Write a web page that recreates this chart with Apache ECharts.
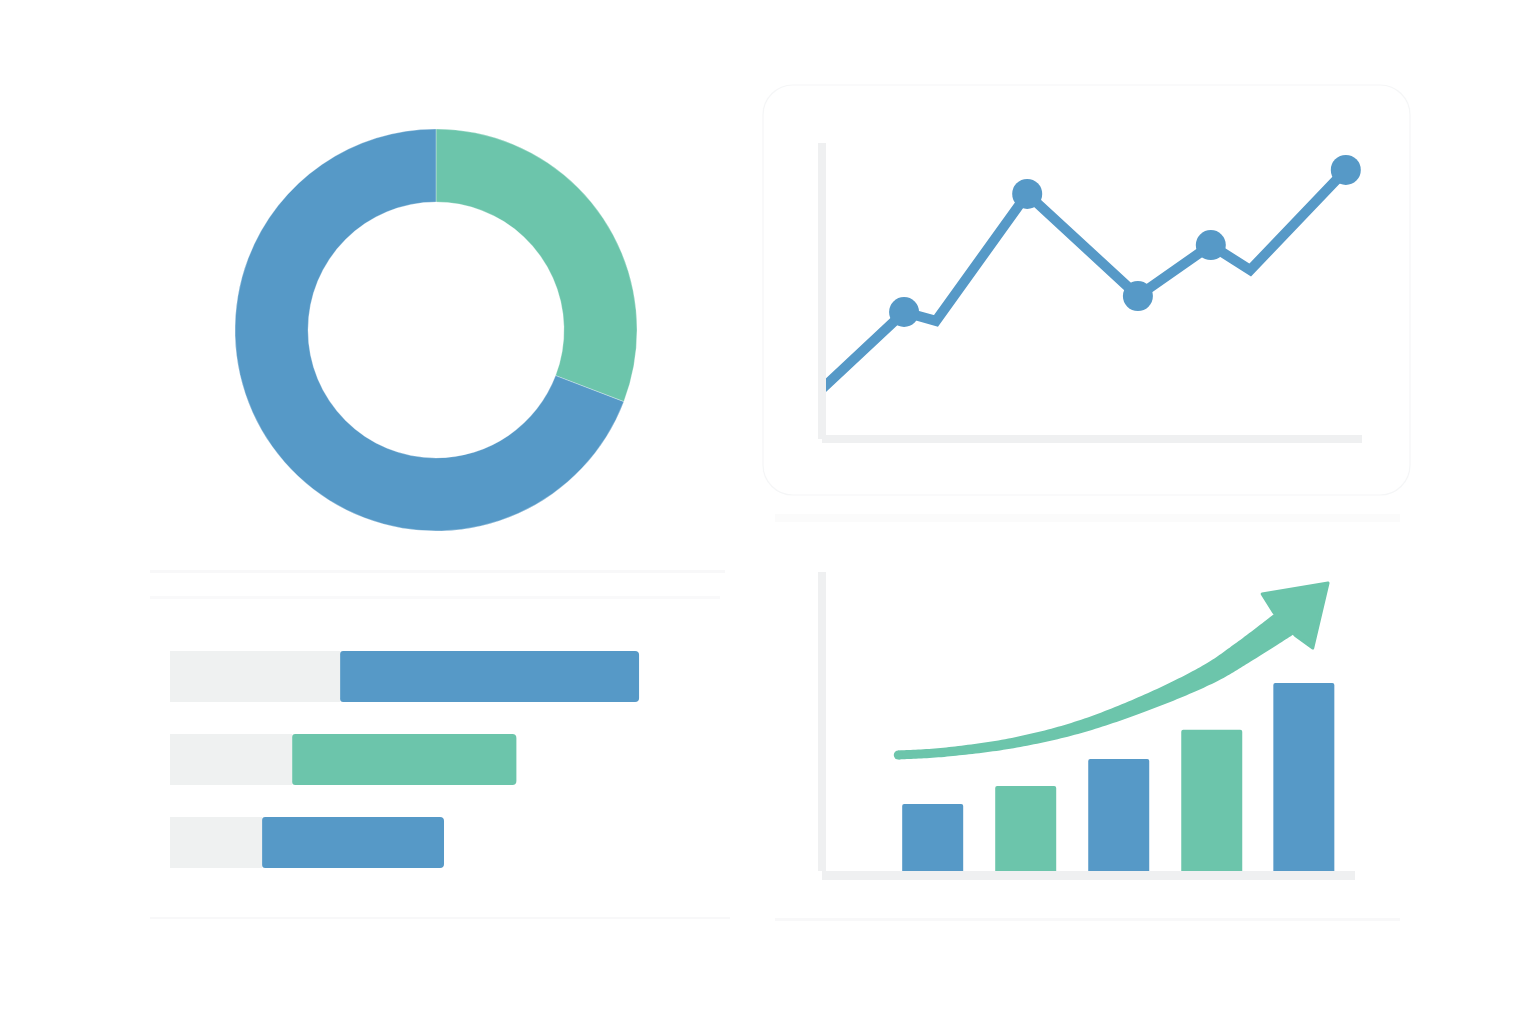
<!DOCTYPE html>
<html>
<head>
<meta charset="utf-8">
<style>
  html, body { margin: 0; padding: 0; background: #ffffff; }
  #chart { width: 1536px; height: 1024px; }
</style>
<script src="https://cdn.jsdelivr.net/npm/echarts@6/dist/echarts.min.js"></script>
</head>
<body>
<div id="chart"></div>
<script>
// ---------- data ----------
const BLUE = '#5699c7';
const GREEN = '#6cc5ab';
const AXIS = '#eff0f1';

// donut
const donutNames = ['A', 'B'];
const donutValues = [30.8, 69.2];
const donutColors = [GREEN, BLUE];

// line chart (x, y on 0..100 scales)
const lineX = [0, 15.2, 21.1, 38.0, 58.5, 72.0, 79.3, 97.0];
const lineY = [16.9, 42.9, 39.9, 82.8, 48.3, 65.5, 57.1, 90.9];
const lineMarked = [false, true, false, true, true, true, false, true];

// vertical bars
const barX = [1.19, 2.19, 3.19, 4.19, 5.18];
const barValues = [22.4, 28.4, 37.5, 47.2, 62.9];
const barColors = [BLUE, GREEN, BLUE, GREEN, BLUE];

// trend arrow (shaft points, then tip)
const arrowX = [0.82, 1.34, 2.05, 2.77, 3.50, 4.14, 4.55, 4.98, 5.44];
const arrowY = [38.8, 39.8, 42.8, 48.2, 56.5, 65.6, 73.6, 82.9, 96.3];

// horizontal bars
const hCategories = ['r1', 'r2', 'r3'];
const hBase = [36.2, 26.0, 19.6];
const hValues = [63.6, 47.7, 38.7];
const hColors = [BLUE, GREEN, BLUE];

// ---------- helpers ----------
function catmull(pts, n) {
  const out = [];
  for (let i = 0; i < pts.length - 1; i++) {
    const p0 = pts[i - 1] || pts[i], p1 = pts[i], p2 = pts[i + 1], p3 = pts[i + 2] || pts[i + 1];
    for (let k = 0; k < n; k++) {
      const t = k / n, t2 = t * t, t3 = t2 * t;
      const f = (a, b, c, d) => 0.5 * ((2 * b) + (-a + c) * t + (2 * a - 5 * b + 4 * c - d) * t2 + (-a + 3 * b - 3 * c + d) * t3);
      out.push([f(p0[0], p1[0], p2[0], p3[0]), f(p0[1], p1[1], p2[1], p3[1])]);
    }
  }
  out.push(pts[pts.length - 1]);
  return out;
}

function renderArrow(params, api) {
  if (params.dataIndex !== 0) return;
  const pts = arrowX.map((x, i) => api.coord([x, arrowY[i]]));
  const tip = pts.pop();
  const shaft = catmull(pts, 20);
  const cum = [0];
  for (let i = 1; i < shaft.length; i++) {
    cum.push(cum[i - 1] + Math.hypot(shaft[i][0] - shaft[i - 1][0], shaft[i][1] - shaft[i - 1][1]));
  }
  const total = cum[cum.length - 1];
  const w0 = 9, w1 = 28;
  const left = [], right = [];
  for (let i = 0; i < shaft.length; i++) {
    const a = shaft[Math.max(0, i - 1)], b = shaft[Math.min(shaft.length - 1, i + 1)];
    let dx = b[0] - a[0], dy = b[1] - a[1];
    const L = Math.hypot(dx, dy) || 1;
    dx /= L; dy /= L;
    const w = (w0 + (w1 - w0) * Math.pow(cum[i] / total, 2.0)) / 2;
    left.push([shaft[i][0] - dy * w, shaft[i][1] + dx * w]);
    right.push([shaft[i][0] + dy * w, shaft[i][1] - dx * w]);
  }
  const poly = left.concat(right.reverse());
  const B = shaft[shaft.length - 1];
  let dx = tip[0] - B[0], dy = tip[1] - B[1];
  const L = Math.hypot(dx, dy);
  dx /= L; dy /= L;
  const nx = -dy, ny = dx;
  const hw = 37, nw = 16, fwd = 3;
  const b1 = [B[0] + dx * fwd + nx * hw, B[1] + dy * fwd + ny * hw];
  const b2 = [B[0] + dx * fwd - nx * hw, B[1] + dy * fwd - ny * hw];
  const n1 = [B[0] - dx * 1 + nx * nw, B[1] - dy * 1 + ny * nw];
  const n2 = [B[0] - dx * 1 - nx * nw, B[1] - dy * 1 - ny * nw];
  const style = { fill: GREEN, stroke: GREEN, lineWidth: 3, lineJoin: 'round' };
  return {
    type: 'group',
    children: [
      { type: 'polygon', shape: { points: poly }, style: { fill: GREEN } },
      { type: 'circle', shape: { cx: shaft[0][0], cy: shaft[0][1], r: w0 / 2 }, style: { fill: GREEN } },
      { type: 'polygon', shape: { points: [tip, b1, n1, n2, b2] }, style: style }
    ]
  };
}

// ---------- chart ----------
const chart = echarts.init(document.getElementById('chart'), null, { renderer: 'canvas' });

const axisLine = (w) => ({ show: true, onZero: false, lineStyle: { color: AXIS, width: w, cap: 'butt' } });
const hidden = { axisTick: { show: false }, axisLabel: { show: false }, splitLine: { show: false } };

const option = {
  backgroundColor: '#ffffff',
  animation: false,
  graphic: [
    { type: 'rect', z: -10, shape: { x: 763, y: 85, width: 647, height: 410, r: 30 },
      style: { fill: '#ffffff', stroke: '#f5f6f7', lineWidth: 1.2 } },
    { type: 'rect', z: -11, shape: { x: 775, y: 514, width: 625, height: 8 },
      style: { fill: '#fbfbfb' } },
    { type: 'rect', z: -11, shape: { x: 150, y: 570, width: 575, height: 3 },
      style: { fill: '#f8f8f9' } },
    { type: 'rect', z: -11, shape: { x: 150, y: 596, width: 570, height: 3 },
      style: { fill: '#f9f9fa' } },
    { type: 'rect', z: -11, shape: { x: 150, y: 917, width: 580, height: 2 },
      style: { fill: '#f8f8f9' } },
    { type: 'rect', z: -11, shape: { x: 775, y: 918, width: 625, height: 3 },
      style: { fill: '#f8f8f9' } }
  ],
  grid: [
    { left: 822, top: 143, width: 540, height: 296 },
    { left: 822, top: 572, width: 533, height: 299 },
    { left: 170, top: 635, width: 470, height: 249 }
  ],
  xAxis: [
    Object.assign({ type: 'value', gridIndex: 0, min: 0, max: 100, axisLine: axisLine(8) }, hidden),
    Object.assign({ type: 'value', gridIndex: 1, min: 0, max: 5.73, offset: 4.5, axisLine: axisLine(9) }, hidden),
    Object.assign({ type: 'value', gridIndex: 2, min: 0, max: 100, axisLine: { show: false } }, hidden)
  ],
  yAxis: [
    Object.assign({ type: 'value', gridIndex: 0, min: 0, max: 100, z: 5, axisLine: axisLine(8) }, hidden),
    Object.assign({ type: 'value', gridIndex: 1, min: 0, max: 100, axisLine: axisLine(8) }, hidden),
    Object.assign({ type: 'category', gridIndex: 2, data: hCategories, inverse: true, axisLine: { show: false } }, hidden)
  ],
  series: [
    {
      type: 'pie',
      center: [436, 330],
      radius: [128, 201],
      startAngle: 90,
      clockwise: true,
      label: { show: false },
      labelLine: { show: false },
      emphasis: { disabled: true },
      itemStyle: { borderColor: 'rgba(255,255,255,0.5)', borderWidth: 0.6 },
      data: donutValues.map((v, i) => ({ name: donutNames[i], value: v, itemStyle: { color: donutColors[i] } }))
    },
    {
      type: 'line',
      xAxisIndex: 0, yAxisIndex: 0,
      lineStyle: { color: BLUE, width: 10, join: 'miter', cap: 'butt' },
      itemStyle: { color: BLUE, borderWidth: 0 },
      symbol: 'circle',
      symbolSize: 30,
      showAllSymbol: true,
      clip: true,
      z: 3,
      data: lineX.map((x, i) => lineMarked[i] ? { value: [x, lineY[i]] } : { value: [x, lineY[i]], symbol: 'none' })
    },
    {
      type: 'bar',
      xAxisIndex: 1, yAxisIndex: 1,
      barWidth: 61,
      z: 3,
      data: barX.map((x, i) => ({ value: [x, barValues[i]], itemStyle: { color: barColors[i], borderRadius: [2, 2, 0, 0] } }))
    },
    {
      type: 'custom',
      xAxisIndex: 1, yAxisIndex: 1,
      z: 4,
      renderItem: renderArrow,
      data: arrowX.map((x, i) => [x, arrowY[i]])
    },
    {
      type: 'bar',
      xAxisIndex: 2, yAxisIndex: 2,
      stack: 'h',
      barWidth: 51,
      itemStyle: { color: '#eff1f1' },
      data: hBase
    },
    {
      type: 'bar',
      xAxisIndex: 2, yAxisIndex: 2,
      stack: 'h',
      barWidth: 51,
      data: hValues.map((v, i) => ({ value: v, itemStyle: { color: hColors[i], borderRadius: [3, 4, 4, 3] } }))
    }
  ]
};
chart.setOption(option);
</script>
</body>
</html>
